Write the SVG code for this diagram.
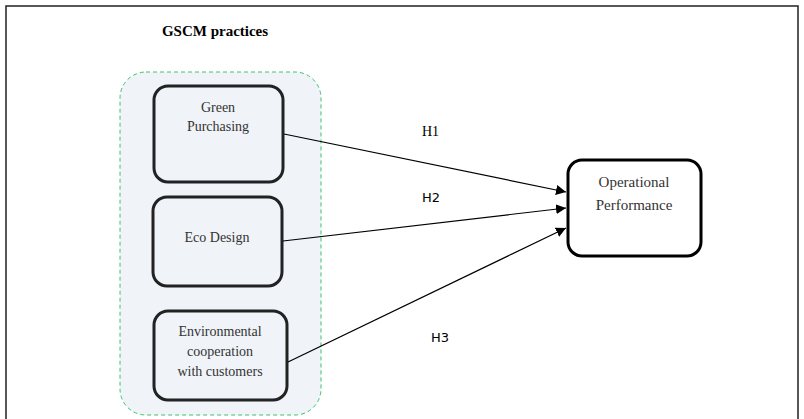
<svg xmlns="http://www.w3.org/2000/svg" width="804" height="419" viewBox="0 0 804 419">
<style>
.n{fill:#f0f3f8;stroke:#222;stroke-width:3}
.t{font-family:"Liberation Serif",serif;font-size:14px;fill:#333;text-anchor:middle}
.c{stroke:#000;stroke-width:1.2;fill:none;marker-end:url(#a)}
.h{font-family:"DejaVu Sans",sans-serif;font-size:13px;fill:#000}
</style>
<defs><marker id="a" viewBox="0 0 10 10" refX="10" refY="5" markerWidth="10" markerHeight="10" markerUnits="userSpaceOnUse" orient="auto"><path d="M0,0L10,5L0,10z" fill="#000"/></marker></defs>
<rect width="804" height="419" fill="#fff"/>
<path d="M6,419V6H798V419" fill="none" stroke="#222" stroke-width="1.5"/>
<text x="215" y="36" font-family="Liberation Serif,serif" font-size="15" font-weight="bold" text-anchor="middle">GSCM practices</text>
<g id="group"><rect x="120" y="72" width="201" height="343" rx="26" fill="#f0f3f8" stroke="#3cc46e" stroke-dasharray="4,3"/></g>
<g id="gp"><rect class="n" x="154" y="86" width="129" height="96" rx="14"/><text class="t" x="218" y="112">Green</text><text class="t" x="218" y="131">Purchasing</text></g>
<g id="ed"><rect class="n" x="153" y="197" width="129" height="89" rx="14"/><text class="t" x="217" y="242">Eco Design</text></g>
<g id="ec"><rect class="n" x="154" y="311" width="133" height="89" rx="14"/><text class="t" x="220" y="336">Environmental</text><text class="t" x="220" y="356">cooperation</text><text class="t" x="220" y="376">with customers</text></g>
<g id="op"><rect x="568" y="160" width="133" height="96" rx="14" fill="#fff" stroke="#000" stroke-width="3"/><text class="t" x="634" y="187" style="font-size:15px">Operational</text><text class="t" x="634" y="210" style="font-size:15px">Performance</text></g>
<g id="connectors">
<line class="c" x1="284" y1="134" x2="566" y2="192"/>
<line class="c" x1="283" y1="241" x2="566" y2="208"/>
<line class="c" x1="288" y1="362" x2="566" y2="228"/>
<text x="422" y="136" font-family="Liberation Serif,serif" font-size="14">H1</text>
<text class="h" x="422" y="202">H2</text>
<text class="h" x="431" y="342">H3</text>
</g>
</svg>
